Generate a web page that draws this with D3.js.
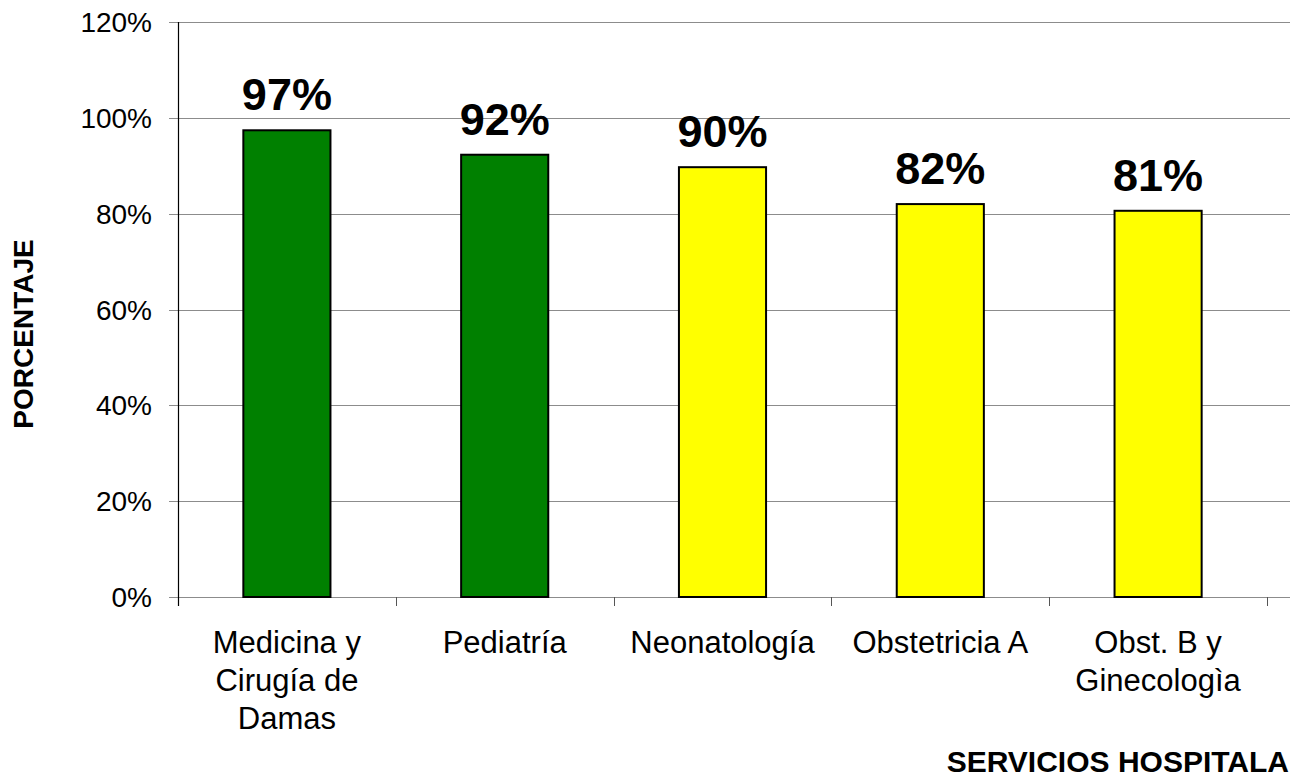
<!DOCTYPE html>
<html>
<head>
<meta charset="utf-8">
<script src="https://cdn.jsdelivr.net/npm/d3@7"></script>
<style>
  body { margin: 0; background: #fff; }
  svg { display: block; font-family: "Liberation Sans", Arial, sans-serif; }
</style>
</head>
<body>
<svg id="chart"></svg>
<script>
// data
var servicios = [
  ["Medicina y", "Cirugía de", "Damas"],
  ["Pediatría"],
  ["Neonatología"],
  ["Obstetricia A"],
  ["Obst. B y", "Ginecologìa"]
];
var porcentajes = [0.974, 0.923, 0.897, 0.820, 0.806];
var etiquetas = ["97%", "92%", "90%", "82%", "81%"];
var colores = ["#008000", "#008000", "#ffff00", "#ffff00", "#ffff00"];
var yTicks = [0, 0.2, 0.4, 0.6, 0.8, 1.0, 1.2];

var width = 1303, height = 781;
var plotLeft = 178, plotRight = 1267, plotTop = 22, plotBottom = 597;

var svg = d3.select("#chart").attr("width", width).attr("height", height);

var x = d3.scaleBand()
    .domain(d3.range(servicios.length))
    .range([plotLeft, plotRight])
    .padding(0);

var y = d3.scaleLinear().domain([0, 1.2]).range([plotBottom, plotTop]);

// gridlines
svg.append("g")
    .selectAll("line")
    .data(yTicks)
    .enter().append("line")
    .attr("x1", plotLeft - 9)
    .attr("x2", 1290)
    .attr("y1", function (d) { return Math.round(y(d)) + 0.5; })
    .attr("y2", function (d) { return Math.round(y(d)) + 0.5; })
    .style("stroke", "#8c8c8c")
    .style("stroke-width", 1.2);

// y tick labels
svg.append("g")
    .selectAll("text")
    .data(yTicks)
    .enter().append("text")
    .attr("x", 152)
    .attr("y", function (d) { return y(d) + 10; })
    .attr("text-anchor", "end")
    .style("font-size", "28px")
    .style("fill", "#000")
    .text(function (d) { return Math.round(d * 100) + "%"; });

// bottom ticks
var tickPos = x.domain().map(function (i) { return x(i); }).concat([plotRight]);
svg.append("g")
    .selectAll("line")
    .data(tickPos)
    .enter().append("line")
    .attr("x1", function (d) { return Math.round(d) + 0.5; })
    .attr("x2", function (d) { return Math.round(d) + 0.5; })
    .attr("y1", plotBottom)
    .attr("y2", plotBottom + 9)
    .style("stroke", "#555")
    .style("stroke-width", 1);

// y axis line
svg.append("line")
    .attr("x1", plotLeft + 0.5).attr("x2", plotLeft + 0.5)
    .attr("y1", plotTop).attr("y2", plotBottom + 9)
    .style("stroke", "#000")
    .style("stroke-width", 1.2);

// bars
var bw = x.bandwidth() * 0.4;
svg.append("g")
    .selectAll("rect")
    .data(porcentajes)
    .enter().append("rect")
    .attr("x", function (d, i) { return x(i) + (x.bandwidth() - bw) / 2; })
    .attr("y", function (d) { return y(d); })
    .attr("width", bw)
    .attr("height", function (d) { return y(0) - y(d); })
    .attr("fill", function (d, i) { return colores[i]; })
    .style("stroke", "#000")
    .style("stroke-width", 2);

// value labels
svg.append("g")
    .selectAll("text")
    .data(porcentajes)
    .enter().append("text")
    .attr("x", function (d, i) { return x(i) + x.bandwidth() / 2; })
    .attr("y", function (d) { return y(d) - 20; })
    .attr("text-anchor", "middle")
    .style("font-size", "45px")
    .style("font-weight", "bold")
    .style("fill", "#000")
    .text(function (d, i) { return etiquetas[i]; });

// category labels
var cat = svg.append("g")
    .selectAll("text")
    .data(servicios)
    .enter().append("text")
    .attr("x", function (d, i) { return x(i) + x.bandwidth() / 2; })
    .attr("y", 653)
    .attr("text-anchor", "middle")
    .style("font-size", "31px")
    .style("fill", "#000");

cat.selectAll("tspan")
    .data(function (d) { return d; })
    .enter().append("tspan")
    .attr("x", function () { return d3.select(this.parentNode).attr("x"); })
    .attr("dy", function (d, i) { return i === 0 ? 0 : 38; })
    .text(function (d) { return d; });

// axis titles
svg.append("text")
    .attr("transform", "translate(33,334) rotate(-90)")
    .attr("text-anchor", "middle")
    .style("font-size", "28px")
    .style("font-weight", "bold")
    .text("PORCENTAJE");

svg.append("text")
    .attr("x", 1289)
    .attr("y", 772)
    .attr("text-anchor", "end")
    .style("font-size", "30px")
    .style("font-weight", "bold")
    .text("SERVICIOS HOSPITALA");
</script>
</body>
</html>
